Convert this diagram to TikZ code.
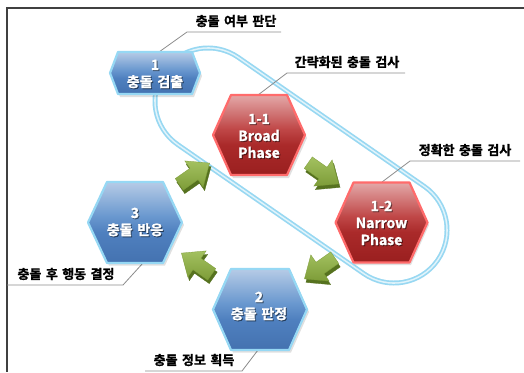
\documentclass[tikz,border=0pt]{standalone}
\usepackage{fontspec}
\setmainfont{Noto Sans CJK KR}[BoldFont={* Bold}, BoldFeatures={FakeBold=1.3}, WordSpace=1.5]
\definecolor{bB}{HTML}{4472B0}
\definecolor{bM}{HTML}{4F80BF}
\definecolor{bU}{HTML}{6A98CF}
\definecolor{bT}{HTML}{B6CBE6}
\definecolor{rB}{HTML}{9A1F1F}
\definecolor{rM}{HTML}{AA2A2A}
\definecolor{rU}{HTML}{C04848}
\definecolor{rT}{HTML}{E3A8A8}
\definecolor{hexblueedge}{HTML}{96D8F4}
\definecolor{hexrededge}{HTML}{FF6B6B}
\definecolor{loopblue}{HTML}{98D8F2}
\definecolor{looppale}{HTML}{E2F4FB}
\definecolor{framegray}{HTML}{404040}
\definecolor{leadgray}{HTML}{8C8C8C}
\definecolor{arrlight}{HTML}{A3C160}
\definecolor{arrmid}{HTML}{7D9C38}
\definecolor{arrdark}{HTML}{56721F}
\pgfdeclareverticalshading{blueglass}{100bp}{color(0bp)=(bB); color(25bp)=(bB); color(44bp)=(bM); color(54bp)=(bU); color(75bp)=(bT); color(100bp)=(bT)}
\pgfdeclareverticalshading{redglass}{100bp}{color(0bp)=(rB); color(25bp)=(rB); color(44bp)=(rM); color(54bp)=(rU); color(75bp)=(rT); color(100bp)=(rT)}
\tikzset{
  lbl/.style={font=\bfseries\fontsize{13}{15}\selectfont, text=black, inner sep=0},
  hextxt/.style={font=\bfseries\fontsize{14}{17}\selectfont, text=white, align=center, inner sep=0},
  hexshadowtxt/.style={hextxt, text=black, opacity=0.45},
  leader/.style={draw=leadgray, line width=0.8},
  bluehex/.style={shade, shading=blueglass, draw=hexblueedge, line width=2.2, line join=round},
  redhex/.style={shade, shading=redglass, draw=hexrededge, line width=2.2, line join=round},
  hexshadow/.style={fill=black, opacity=0.12},
  arrtop/.style={top color=arrlight, bottom color=arrmid, draw=arrmid, line width=0.3},
  arrside/.style={fill=arrdark, draw=arrdark, line width=0.3},
}
% hexagon: centre x, centre y, half width, half height, point depth, style
\newcommand\hexat[6]{\path[shift={(#1,#2)},#6] (-#3,0) -- ({-#3+#5},-#4) -- ({#3-#5},-#4) -- (#3,0) -- ({#3-#5},#4) -- ({-#3+#5},#4) -- cycle;}
% 3D arrow: centre x, centre y, rotation
\newcommand\arrowat[3]{%
  \path[arrside,shift={(#1+1.5,#2+3.5)},rotate=#3] (-18,-7) -- (0,-7) -- (0,-16) -- (19,0) -- (0,16) -- (0,7) -- (-18,7) -- cycle;
  \path[arrtop,shift={(#1,#2)},rotate=#3] (-18,-7) -- (0,-7) -- (0,-16) -- (19,0) -- (0,16) -- (0,7) -- (-18,7) -- cycle;}
\begin{document}
\begin{tikzpicture}[x=1pt,y=-1pt]
\useasboundingbox (0,0) rectangle (524,372);
\fill[white] (0,0) rectangle (524,372);
% frame
\coordinate (fr1) at (524,8);
\coordinate (fr2) at (7,8);
\coordinate (fr3) at (7,372);
\draw[framegray, line width=1.6] (fr1) -- (fr2) -- (fr3);
% loop (capsule)
\coordinate (c1) at (208,101);
\coordinate (c2) at (394,230);
\draw[loopblue, line width=111, line cap=round] (c1) -- (c2);
\draw[looppale, line width=107.6, line cap=round] (c1) -- (c2);
\draw[loopblue, line width=104.4, line cap=round] (c1) -- (c2);
\draw[white, line width=101, line cap=round] (c1) -- (c2);
% leaders
\coordinate (la1) at (187,32);
\coordinate (la2) at (281,32);
\coordinate (h1t) at (159,52);
\coordinate (lb1) at (287,73);
\coordinate (lb2) at (405,73);
\coordinate (bt) at (258,95);
\coordinate (lc1) at (410,161);
\coordinate (lc2) at (520,161);
\coordinate (nt) at (382,182);
\coordinate (ld1) at (7,285);
\coordinate (ld2) at (123,285);
\coordinate (h3b) at (143,263);
\coordinate (le1) at (145,371);
\coordinate (le2) at (242,371);
\coordinate (h2b) at (258,350);
\draw[leader] (la2) -- (la1) -- (h1t);
\draw[leader] (lb2) -- (lb1) -- (bt);
\draw[leader] (lc2) -- (lc1) -- (nt);
\draw[leader] (ld1) -- (ld2) -- (h3b);
\draw[leader] (le1) -- (le2) -- (h2b);
% hex shadows
\hexat{157}{76}{45}{21}{8}{hexshadow}
\hexat{261}{138}{46}{40}{18}{hexshadow}
\hexat{383}{225}{46}{40}{18}{hexshadow}
\hexat{262}{312}{47}{40.5}{18}{hexshadow}
\hexat{137}{225}{47}{40.5}{19}{hexshadow}
% hexes
\hexat{155}{73}{45}{21}{8}{bluehex}
\hexat{259}{135}{46}{40}{18}{redhex}
\hexat{381.5}{222.5}{46}{40}{18}{redhex}
\hexat{260}{309.5}{47}{40.5}{18}{bluehex}
\hexat{135}{222.5}{47}{40.5}{19}{bluehex}
% hex texts
\node[hexshadowtxt] at (156,75) {1\\충돌 검출};
\node[hextxt] (h1) at (155,74) {1\\충돌 검출};
\node[hexshadowtxt] at (260,137) {1-1\\Broad\\Phase};
\node[hextxt] (hb) at (259,136) {1-1\\Broad\\Phase};
\node[hexshadowtxt] at (382.5,224) {1-2\\Narrow\\Phase};
\node[hextxt] (hn) at (381.5,223) {1-2\\Narrow\\Phase};
\node[hexshadowtxt] at (260,307) {2\\충돌 판정};
\node[hextxt] (h2) at (259,306) {2\\충돌 판정};
\node[hexshadowtxt] at (136,223) {3\\충돌 반응};
\node[hextxt] (h3) at (135,222) {3\\충돌 반응};
% green arrows
\arrowat{194}{174}{35}
\arrowat{323}{173}{-35}
\arrowat{320}{268}{-145}
\arrowat{197}{264}{145}
% labels
\node[lbl] (la) at (236,21) {충돌 여부 판단};
\node[lbl] (lb) at (347,62) {간략화된 충돌 검사};
\node[lbl] (lc) at (465,150) {정확한 충돌 검사};
\node[lbl] (ld) at (66,274) {충돌 후 행동 결정};
\node[lbl] (le) at (194,360) {충돌 정보 획득};
\end{tikzpicture}
\end{document}
